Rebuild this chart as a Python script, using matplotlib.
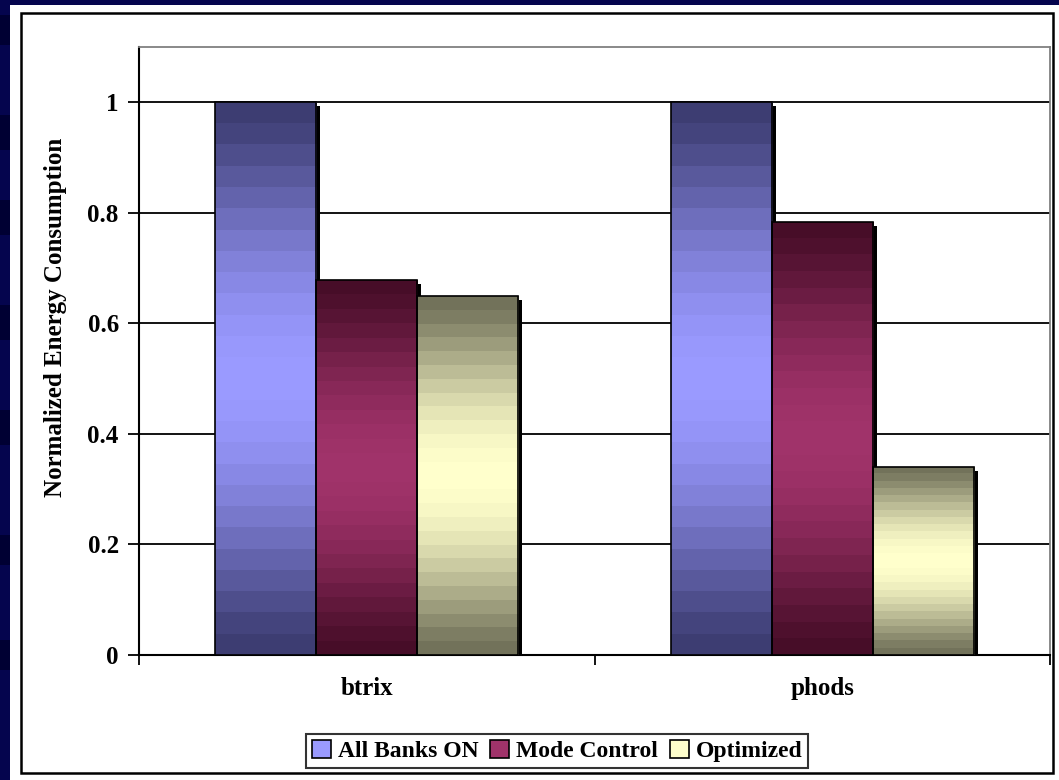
import matplotlib
matplotlib.use("Agg")
import matplotlib.pyplot as plt
import numpy as np
from matplotlib.colors import LinearSegmentedColormap
from matplotlib.patches import Rectangle, Patch
from matplotlib.transforms import offset_copy

benchmarks = ["btrix", "phods"]
series = ["All Banks ON", "Mode Control", "Optimized"]
energy = {
    "All Banks ON": [1.0, 1.0],
    "Mode Control": [0.678, 0.784],
    "Optimized": [0.649, 0.341],
}
y_ticks = [0, 0.2, 0.4, 0.6, 0.8, 1.0]
y_tick_labels = ["0", "0.2", "0.4", "0.6", "0.8", "1"]

# dark edge colour -> light centre colour for each series
shades = {
    "All Banks ON": ("#3d3d72", "#9a9aff"),
    "Mode Control": ("#470d28", "#a0336a"),
    "Optimized": ("#72725a", "#ffffcc"),
}

plt.rcParams["font.family"] = ["Liberation Serif", "DejaVu Serif"]
plt.rcParams["font.weight"] = "bold"

fig = plt.figure(figsize=(10.59, 7.80), dpi=100, facecolor="#05054e")

# white slide panel with the chart border
fig.patches.append(Rectangle((10 / 1059, 0), 1, 1 - 5 / 780, transform=fig.transFigure,
                             facecolor="white", edgecolor="none", zorder=-2))
for y0, h in [(735, 30), (630, 35), (545, 35), (440, 35), (335, 35), (215, 30), (110, 30)]:
    fig.patches.append(Rectangle((0, y0 / 780), 10 / 1059, h / 780, transform=fig.transFigure,
                                 facecolor="#000033", edgecolor="none", zorder=-1))
fig.patches.append(Rectangle((21 / 1059, 7 / 780), 1032 / 1059, 760 / 780, transform=fig.transFigure,
                             facecolor="none", edgecolor="black", linewidth=1.8, zorder=3))

ax = fig.add_axes([139 / 1059, 125 / 780, 911 / 1059, 608 / 780])
ax.set_zorder(1)
ax.set_facecolor("white")

n = len(series)
width = 0.222
x = np.arange(len(benchmarks))

def band_cmap(dark, light, steps=26):
    t = np.linspace(0, 1, steps)
    prof = np.sin(np.pi * t) ** 1.2
    base = LinearSegmentedColormap.from_list("b", [dark, light])
    return base(prof)

for i, name in enumerate(series):
    pos = x + (i - (n - 1) / 2) * width
    vals = energy[name]
    # drop shadow
    shadow_tr = offset_copy(ax.transData, fig=fig, x=4, y=-4, units="dots")
    ax.bar(pos, vals, width, color="black", transform=shadow_tr, zorder=2, clip_on=True)
    bars = ax.bar(pos, vals, width, facecolor="none", edgecolor="black", linewidth=1.2, zorder=4)
    colors = band_cmap(*shades[name])
    for rect in bars:
        x0 = rect.get_x()
        h = rect.get_height()
        img = colors[:, None, :3]
        im = ax.imshow(img, extent=(x0, x0 + width, 0, h), aspect="auto",
                       interpolation="nearest", origin="upper", zorder=3)
        im.set_clip_path(rect)

ax.set_xlim(-0.5, len(benchmarks) - 0.5)
ax.set_ylim(0, 1.1)

ax.set_yticks(y_ticks)
ax.set_yticklabels(y_tick_labels, fontsize=18, fontweight="bold")
ax.yaxis.grid(True, color="black", linewidth=1.3, zorder=1)
ax.set_axisbelow(True)
ax.tick_params(axis="y", direction="out", length=8, width=1.3, pad=6.5)

ax.set_xticks(np.arange(len(benchmarks) + 1) - 0.5)
ax.set_xticklabels([])
ax.set_xticks(x, minor=True)
ax.set_xticklabels(benchmarks, minor=True, fontsize=18, fontweight="bold")
ax.tick_params(axis="x", which="major", direction="out", length=7, width=1.3)
ax.tick_params(axis="x", which="minor", length=0, pad=16)

for side in ["left", "bottom"]:
    ax.spines[side].set_color("black")
    ax.spines[side].set_linewidth(1.5)
for side in ["top", "right"]:
    ax.spines[side].set_color("#808080")
    ax.spines[side].set_linewidth(1.3)

ax.set_ylabel("Normalized Energy Consumption", fontsize=18, fontweight="bold")
ax.yaxis.set_label_coords(-0.079, 0.556)

handles = [Patch(facecolor=shades[s][1], edgecolor="black", linewidth=1.2) for s in series]
leg = fig.legend(handles, series, loc="center", bbox_to_anchor=(557 / 1059, 1 - 751 / 780),
                 ncol=3, frameon=True, fancybox=False,
                 prop={"weight": "bold", "size": 17},
                 handlelength=0.8, handleheight=0.8, handletextpad=0.3,
                 columnspacing=0.5, borderpad=0.25, borderaxespad=0)
leg.get_frame().set_edgecolor("black")
leg.get_frame().set_linewidth(1.5)

fig.savefig("out.png", dpi=100, facecolor=fig.get_facecolor())
